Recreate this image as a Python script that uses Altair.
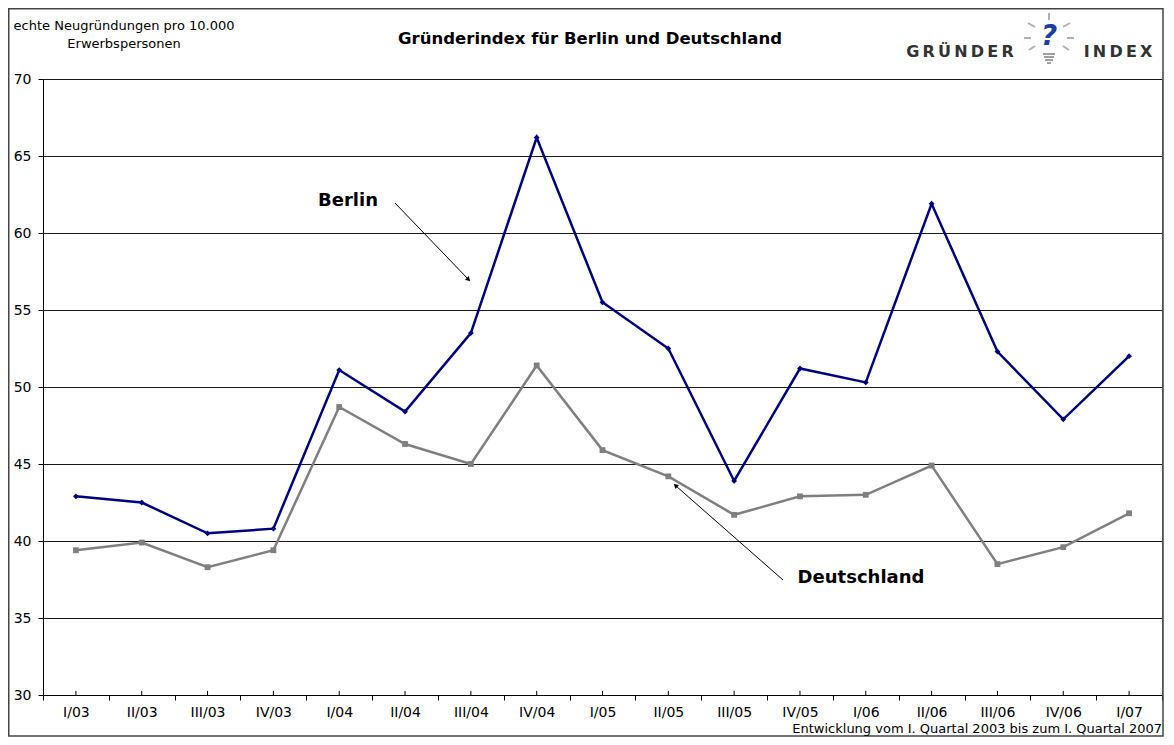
import altair as alt
import pandas as pd

# ---------------- data ----------------
quarters = ["I/03", "II/03", "III/03", "IV/03", "I/04", "II/04", "III/04", "IV/04",
            "I/05", "II/05", "III/05", "IV/05", "I/06", "II/06", "III/06", "IV/06", "I/07"]
berlin = [42.9, 42.5, 40.5, 40.8, 51.1, 48.4, 53.5, 66.2,
          55.5, 52.5, 43.9, 51.2, 50.3, 61.9, 52.3, 47.9, 52.0]
deutschland = [39.4, 39.9, 38.3, 39.4, 48.7, 46.3, 45.0, 51.4,
               45.9, 44.2, 41.7, 42.9, 43.0, 44.9, 38.5, 39.6, 41.8]
series_names = ["Berlin", "Deutschland"]
series_colors = ["#000080", "#808080"]
series_shapes = ["diamond", "square"]
y_ticks = [30, 35, 40, 45, 50, 55, 60, 65, 70]

title_text = "Gründerindex für Berlin und Deutschland"
ytitle_lines = ["echte Neugründungen pro 10.000", "Erwerbspersonen"]
footer_text = "Entwicklung vom I. Quartal 2003 bis zum  I. Quartal 2007"

# ---------------- layout ----------------
FONT = "DejaVu Sans"
W, H = 1119, 616
PAD = {"left": 35, "top": 71, "right": 2, "bottom": 42}
OX, OY = 8 + PAD["left"], 8 + PAD["top"]  # page position of plot origin


def px(ax):
    return ax - OX


def py(ay):
    return ay - OY


df = pd.DataFrame({
    "q": quarters * 2,
    "value": berlin + deutschland,
    "series": ["Berlin"] * len(quarters) + ["Deutschland"] * len(quarters),
})
ticks_df = pd.DataFrame({"q": quarters, "lo": [30] * len(quarters), "hi": [30.27] * len(quarters)})

x_axis = alt.Axis(title=None, labelAngle=0, labelFont=FONT, labelFontSize=14, labelColor="black",
                  tickColor="black", domainColor="black", tickSize=5, tickBand="extent",
                  grid=False, labelPadding=5)
y_axis = alt.Axis(title=None, values=y_ticks, labelFont=FONT, labelFontSize=14, labelColor="black",
                  tickColor="black", domainColor="black", tickSize=5, grid=True,
                  gridColor="#1a1a1a", gridWidth=1, labelPadding=7)
x_enc = alt.X("q:N", sort=quarters, scale=alt.Scale(paddingInner=0, paddingOuter=0), axis=x_axis)
y_scale = alt.Scale(domain=[30, 70], nice=False, zero=False)
color = alt.Color("series:N", scale=alt.Scale(domain=series_names, range=series_colors), legend=None)
shape = alt.Shape("series:N", scale=alt.Scale(domain=series_names, range=series_shapes), legend=None)

base = alt.Chart(df)
lines = base.mark_line(strokeWidth=2.5).encode(
    x=x_enc, y=alt.Y("value:Q", scale=y_scale, axis=y_axis), color=color, detail="series:N")
points = base.mark_point(filled=True, size=34, opacity=1).encode(
    x=x_enc, y=alt.Y("value:Q", scale=y_scale, axis=y_axis), color=color, shape=shape)

center_ticks = alt.Chart(ticks_df).mark_rule(color="black", strokeWidth=1).encode(
    x=x_enc, y=alt.Y("lo:Q", scale=y_scale, axis=y_axis), y2="hi:Q")


def label(text, x, y, size, weight="normal", align="center", color="black", style="normal"):
    return alt.Chart(pd.DataFrame({"t": [text]})).mark_text(
        align=align, baseline="middle", fontSize=size, fontWeight=weight, font=FONT,
        color=color, fontStyle=style).encode(text="t:N", x=alt.value(x), y=alt.value(y))


def seg(x1, y1, x2, y2, color="black", width=1.0):
    return alt.Chart(pd.DataFrame({"a": [0]})).mark_rule(color=color, strokeWidth=width).encode(
        x=alt.value(px(x1)), y=alt.value(py(y1)), x2=alt.value(px(x2)), y2=alt.value(py(y2)))


def head(x, y, ang):
    return alt.Chart(pd.DataFrame({"a": [0]})).mark_point(
        shape="triangle-up", filled=True, color="black", size=28, angle=ang, opacity=1).encode(
        x=alt.value(px(x)), y=alt.value(py(y)))


frame = alt.Chart(pd.DataFrame({"a": [0]})).mark_rect(
    fill="transparent", stroke="#444444", strokeWidth=1.5).encode(
    x=alt.value(px(8.75)), x2=alt.value(px(1163)), y=alt.value(py(8.75)), y2=alt.value(py(736)))

TS = "\u2009"
texts = [
    label(title_text, px(590), py(39), 16.5, "bold"),
    label(ytitle_lines[0], px(124), py(26), 13),
    label(ytitle_lines[1], px(124), py(44), 13),
    label(footer_text, px(1162), py(729), 13, align="right"),
    label("Berlin", px(348), py(201), 18, "bold"),
    label("Deutschland", px(861), py(578), 18, "bold"),
    label(TS.join("GRÜNDER"), px(960), py(52), 16, "bold", color="#333333"),
    label(TS.join("INDEX"), px(1118), py(52), 16, "bold", color="#333333"),
    label("?", px(1049), py(37), 28, "bold", color="#1e3fa8", style="italic"),
]

logo_bits = [
    seg(1049, 13, 1049, 20, "#b0b0b0", 2),
    seg(1028, 23, 1035, 27, "#b0b0b0", 2),
    seg(1063, 27, 1070, 23, "#b0b0b0", 2),
    seg(1024, 38, 1031, 38, "#b0b0b0", 2),
    seg(1067, 38, 1074, 38, "#b0b0b0", 2),
    seg(1029, 50, 1035, 46, "#b0b0b0", 2),
    seg(1063, 46, 1069, 50, "#b0b0b0", 2),
    seg(1043, 54, 1055, 54, "#a0a0a0", 2),
    seg(1044, 57, 1054, 57, "#a0a0a0", 2),
    seg(1045, 60, 1053, 60, "#a0a0a0", 2),
    seg(1047, 63, 1051, 63, "#a0a0a0", 2),
]

arrows = [
    seg(395, 203, 469, 280),
    head(468.5, 279.5, 136),
    seg(783, 580, 676, 486),
    head(675.5, 485.5, 311),
]

chart = alt.layer(
    frame, center_ticks, lines, points, *arrows, *texts, *logo_bits
).properties(
    width=W, height=H, padding=PAD, autosize=alt.AutoSizeParams(type="none")
).configure_view(stroke="#808080", strokeWidth=1)

chart.save("out.html", embed_options={"renderer": "svg", "actions": False})
